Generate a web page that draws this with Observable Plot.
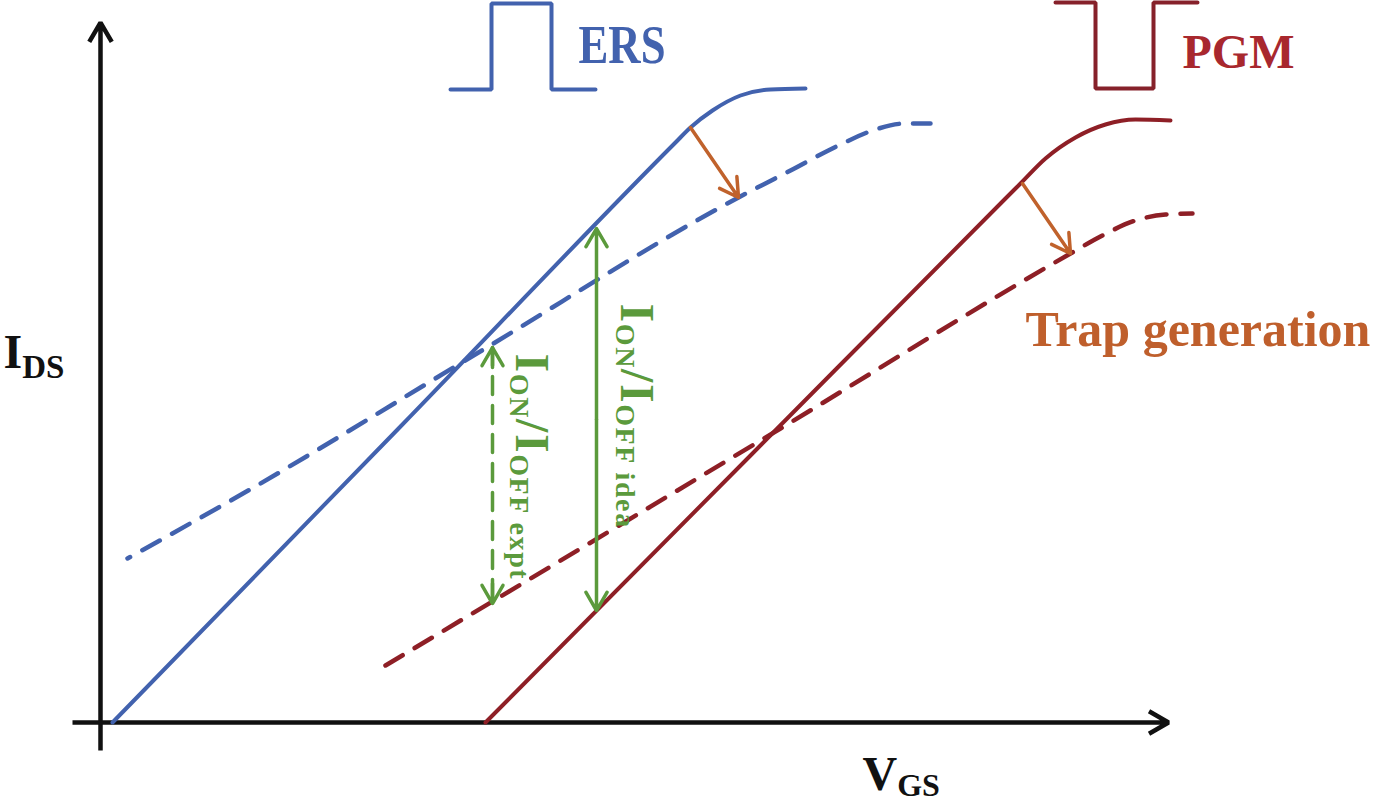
<!DOCTYPE html>
<html>
<head>
<meta charset="utf-8">
<script src="https://cdn.jsdelivr.net/npm/d3@7"></script>
<script src="https://cdn.jsdelivr.net/npm/@observablehq/plot@0.6"></script>
<style>
  html, body { margin: 0; padding: 0; background: #fff; }
  #chart svg { display: block; }
</style>
</head>
<body>
<div id="chart"></div>
<script>
// ---- Data (schematic units: V_GS along x, I_DS along y, origin at the axes' crossing) ----
// Erase state, fresh device (solid) and after trap generation (dashed)
const ersFresh = [[12, 0], [300, 296], [575, 580], [590, 595], [612, 612], [640, 627], [670, 633], [705, 634]];
const ersTrap  = [[27, 164], [153, 235], [378, 370], [638, 525], [690, 552], [740, 578], [775, 593], [805, 599], [830, 599]];
// Program state, fresh device (solid) and after trap generation (dashed)
const pgmFresh = [[385, 0], [650, 267], [905, 524], [920, 539], [945, 564], [975, 585], [1005, 598], [1035, 603], [1070, 602]];
const pgmTrap  = [[285, 57], [680, 294], [970, 469], [1000, 486], [1035, 502], [1065, 508], [1092, 509]];
// Pulse symbols
const ersPulse = [[350, 633], [391, 633], [391, 719], [451, 719], [451, 633], [495, 633]];
const pgmPulse = [[955, 720], [995, 720], [995, 634], [1053, 634], [1053, 720], [1097, 720]];
// Degradation arrows (fresh -> trapped)
const degradation = [
  {v1: 590, i1: 595, v2: 638, i2: 525},
  {v1: 922, i1: 539, v2: 970, i2: 469}
];
// Axes (start -> tip)
const axes = [
  {v1: 0, i1: -28, v2: 0, i2: 700},
  {v1: -28, i1: 0, v2: 1068, i2: 0}
];
// ON/OFF windows
const idealWindow = {v: 496, top: 494, bottom: 112};
const exptWindow  = {v: 392, top: 375, bottom: 119};
// Labels
const pulseLabels = [
  {label: "ERS", v: 478, i: 660, color: "#4262ae"},
  {label: "PGM", v: 1082, i: 655, color: "#a8282e"}
];
const trapLabel = [{label: "Trap generation", v: 925, i: 377}];
const axisLabels = [
  {label: "I|_DS", v: -97, i: 355},
  {label: "V|_GS", v: 762, i: -67}
];
const windowLabels = [
  {label: "I|_ON|/I|_OFF idea", v: 520, i: 419},
  {label: "I|_ON|/I|_OFF expt", v: 415, i: 369}
];

const blue = "#4262ae", red = "#8e1f26", green = "#5b9a3c", orange = "#c0622c";
const serif = "Liberation Serif, Times New Roman, serif";

const idealArrows = [
  {v1: idealWindow.v, i1: (idealWindow.top + idealWindow.bottom) / 2, v2: idealWindow.v, i2: idealWindow.top},
  {v1: idealWindow.v, i1: (idealWindow.top + idealWindow.bottom) / 2, v2: idealWindow.v, i2: idealWindow.bottom}
];
const exptHeads = [
  {v1: exptWindow.v, i1: exptWindow.top - 66, v2: exptWindow.v, i2: exptWindow.top},
  {v1: exptWindow.v, i1: exptWindow.bottom + 66, v2: exptWindow.v, i2: exptWindow.bottom}
];

const chart = Plot.plot({
  width: 1378,
  height: 802,
  margin: 0,
  x: {domain: [-100, 1278], axis: null},
  y: {domain: [-80, 722], axis: null},
  style: {background: "#fff"},
  marks: [
    // axes
    Plot.arrow(axes, {x1: "v1", y1: "i1", x2: "v2", y2: "i2", stroke: "#111", strokeWidth: 4.5, headLength: 7.5, strokeLinejoin: "miter", strokeLinecap: "butt"}),
    // curves
    Plot.line(ersTrap, {stroke: blue, strokeWidth: 4.5, strokeDasharray: "20,14", strokeDashoffset: 17, curve: "monotone-x"}),
    Plot.line(pgmTrap, {stroke: red, strokeWidth: 4.5, strokeDasharray: "20,14", curve: "monotone-x"}),
    Plot.line(ersFresh, {stroke: blue, strokeWidth: 4, curve: "monotone-x"}),
    Plot.line(pgmFresh, {stroke: red, strokeWidth: 4, curve: "monotone-x"}),
    // pulses
    Plot.line(ersPulse, {stroke: blue, strokeWidth: 4, strokeLinejoin: "miter", curve: "linear"}),
    Plot.line(pgmPulse, {stroke: "#86212a", strokeWidth: 4, strokeLinejoin: "miter", curve: "linear"}),
    // degradation arrows
    Plot.arrow(degradation, {x1: "v1", y1: "i1", x2: "v2", y2: "i2", stroke: orange, strokeWidth: 3.5, headLength: 9}),
    // ideal ON/OFF window (solid double arrow)
    Plot.arrow(idealArrows, {x1: "v1", y1: "i1", x2: "v2", y2: "i2", stroke: green, strokeWidth: 3.5, headLength: 9}),
    // experimental ON/OFF window (dashed double arrow)
    Plot.line([[exptWindow.v, exptWindow.top], [exptWindow.v, exptWindow.bottom]], {stroke: green, strokeWidth: 3.5, strokeDasharray: "18,11"}),
    Plot.arrow(exptHeads, {x1: "v1", y1: "i1", x2: "v2", y2: "i2", stroke: green, strokeWidth: 3.5, headLength: 9, insetStart: 46}),
    // labels
    Plot.text(pulseLabels, {x: "v", y: "i", text: "label", fill: "color", fontSize: 48, fontWeight: "bold", fontFamily: serif, textAnchor: "start", lineAnchor: "bottom"}),
    Plot.text(trapLabel, {x: "v", y: "i", text: "label", fill: "#bf5f2c", fontSize: 50, fontWeight: "bold", fontFamily: serif, textAnchor: "start", lineAnchor: "bottom"}),
    Plot.text(axisLabels, {x: "v", y: "i", text: "label", fill: "#111", fontSize: 48, fontWeight: "bold", fontFamily: serif, textAnchor: "start", lineAnchor: "bottom"}),
    Plot.text(windowLabels, {x: "v", y: "i", text: "label", fill: green, fontSize: 48, fontWeight: "bold", fontFamily: serif, textAnchor: "start", lineAnchor: "bottom", rotate: 90})
  ]
});

// Turn "I|_DS" style labels into text with subscripts
const subSpecs = {
  "I|_DS": {size: 33, shift: 10},
  "V|_GS": {size: 32, shift: 6},
  "I|_ON|/I|_OFF idea": {size: 28, shift: 5, spacing: 1.6},
  "I|_ON|/I|_OFF expt": {size: 28, shift: 6, spacing: 1.6}
};
d3.select(chart).selectAll("text").each(function () {
  const el = d3.select(this);
  const s = el.text();
  const spec = subSpecs[s];
  if (!spec) return;
  el.text(null);
  let lowered = false;
  for (const p of s.split("|")) {
    const isSub = p.startsWith("_");
    const ts = el.append("tspan").text(isSub ? p.slice(1) : p);
    if (isSub) ts.attr("font-size", spec.size);
    if (isSub !== lowered) { ts.attr("dy", isSub ? spec.shift : -spec.shift); lowered = isSub; }
  }
  if (spec.spacing) el.attr("letter-spacing", spec.spacing);
});
// ERS glyphs are narrow and tall
d3.select(chart).selectAll("text").filter(function () { return d3.select(this).text() === "ERS"; })
  .attr("font-size", 54).attr("textLength", 87).attr("lengthAdjust", "spacingAndGlyphs");

document.getElementById("chart").append(chart);
</script>
</body>
</html>
